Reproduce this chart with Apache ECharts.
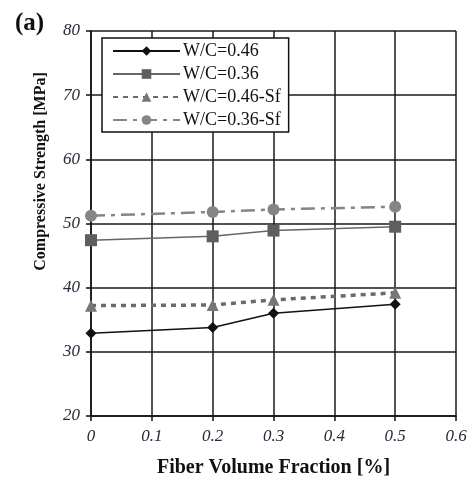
<!DOCTYPE html>
<html>
<head>
<meta charset="utf-8">
<script src="https://cdn.jsdelivr.net/npm/echarts@6/dist/echarts.min.js"></script>
<style>
	html, body { margin: 0; padding: 0; background: #fff; }
	#chart { width: 470px; height: 477px; }
</style>
</head>
<body>
<div id="chart"></div>
<script>
	var fraction = [0, 0.2, 0.3, 0.5];
	var wc046 = [32.9, 33.8, 36.0, 37.4];
	var wc036 = [47.4, 48.0, 48.9, 49.5];
	var wc046sf = [37.2, 37.3, 38.1, 39.2];
	var wc036sf = [51.2, 51.8, 52.2, 52.6];
	var names = ['W/C=0.46', 'W/C=0.36', 'W/C=0.46-Sf', 'W/C=0.36-Sf'];

	var serif = '"Liberation Serif", "DejaVu Serif", serif';

	function pairs(ys) {
		return fraction.map(function (x, i) { return [x, ys[i]]; });
	}

	var chart = echarts.init(document.getElementById('chart'));
	var option = {
		animation: false,
		title: {
			text: '(a)',
			left: 10,
			top: 6,
			textStyle: { fontFamily: serif, fontSize: 25, fontWeight: 'bold', color: '#111' }
		},
		legend: {
			orient: 'vertical',
			left: 102,
			top: 38,
			data: names,
			itemWidth: 67,
			itemHeight: 12,
			itemGap: 5,
			padding: [4, 8, 3, 10],
			backgroundColor: '#fff',
			borderColor: '#111',
			borderWidth: 1.5,
			textStyle: { fontFamily: serif, fontSize: 18, lineHeight: 18, color: '#111', padding: [0, 0, 0, -2] }
		},
		grid: {
			left: 91,
			right: 14,
			top: 31,
			bottom: 61,
			outerBoundsMode: 'none'
		},
		xAxis: {
			type: 'value',
			min: 0,
			max: 0.6,
			interval: 0.1,
			name: 'Fiber Volume Fraction [%]',
			nameLocation: 'middle',
			nameGap: 42,
			nameTextStyle: { fontFamily: serif, fontSize: 20, fontWeight: 'bold', color: '#111' },
			axisLine: { lineStyle: { color: '#111', width: 1.5 } },
			axisTick: { show: true, length: 5, lineStyle: { color: '#111', width: 1.5 } },
			axisLabel: { fontFamily: serif, fontStyle: 'italic', fontSize: 17, color: '#2a2a3a', margin: 12 },
			splitLine: { show: true, lineStyle: { color: '#1a1a1a', width: 1.5 } }
		},
		yAxis: {
			type: 'value',
			min: 20,
			max: 80,
			interval: 10,
			name: 'Compressive Strength [MPa]',
			nameLocation: 'middle',
			nameGap: 42,
			nameTextStyle: { fontFamily: serif, fontSize: 16, fontWeight: 'bold', color: '#111', padding: [0, 0, 0, 104] },
			axisLine: { show: true, lineStyle: { color: '#111', width: 1.5 } },
			axisTick: { show: true, length: 5, lineStyle: { color: '#111', width: 1.5 } },
			axisLabel: { fontFamily: serif, fontStyle: 'italic', fontSize: 17, color: '#2a2a3a', margin: 11 },
			splitLine: { show: true, lineStyle: { color: '#1a1a1a', width: 1.5 } }
		},
		series: [{
				name: names[0],
				type: 'line',
				data: pairs(wc046),
				symbol: 'diamond',
				symbolSize: 11,
				itemStyle: { color: '#111' },
				lineStyle: { color: '#111', width: 1.5 },
				z: 5
			},
			{
				name: names[1],
				type: 'line',
				data: pairs(wc036),
				symbol: 'rect',
				symbolSize: 12,
				itemStyle: { color: '#5e5e5e' },
				lineStyle: { color: '#666', width: 1.5 },
				z: 4
			},
			{
				name: names[2],
				type: 'line',
				data: pairs(wc046sf),
				symbol: 'triangle',
				symbolSize: 12,
				itemStyle: { color: '#777' },
				lineStyle: { color: '#6a6a6a', width: 3.5, type: [5, 5] },
				z: 3
			},
			{
				name: names[3],
				type: 'line',
				data: pairs(wc036sf),
				symbol: 'circle',
				symbolSize: 12,
				itemStyle: { color: '#858585' },
				lineStyle: { color: '#858585', width: 2.5, type: [14, 6, 4, 6] },
				z: 2
			}
		]
	};
	chart.setOption(option);
</script>
</body>
</html>
